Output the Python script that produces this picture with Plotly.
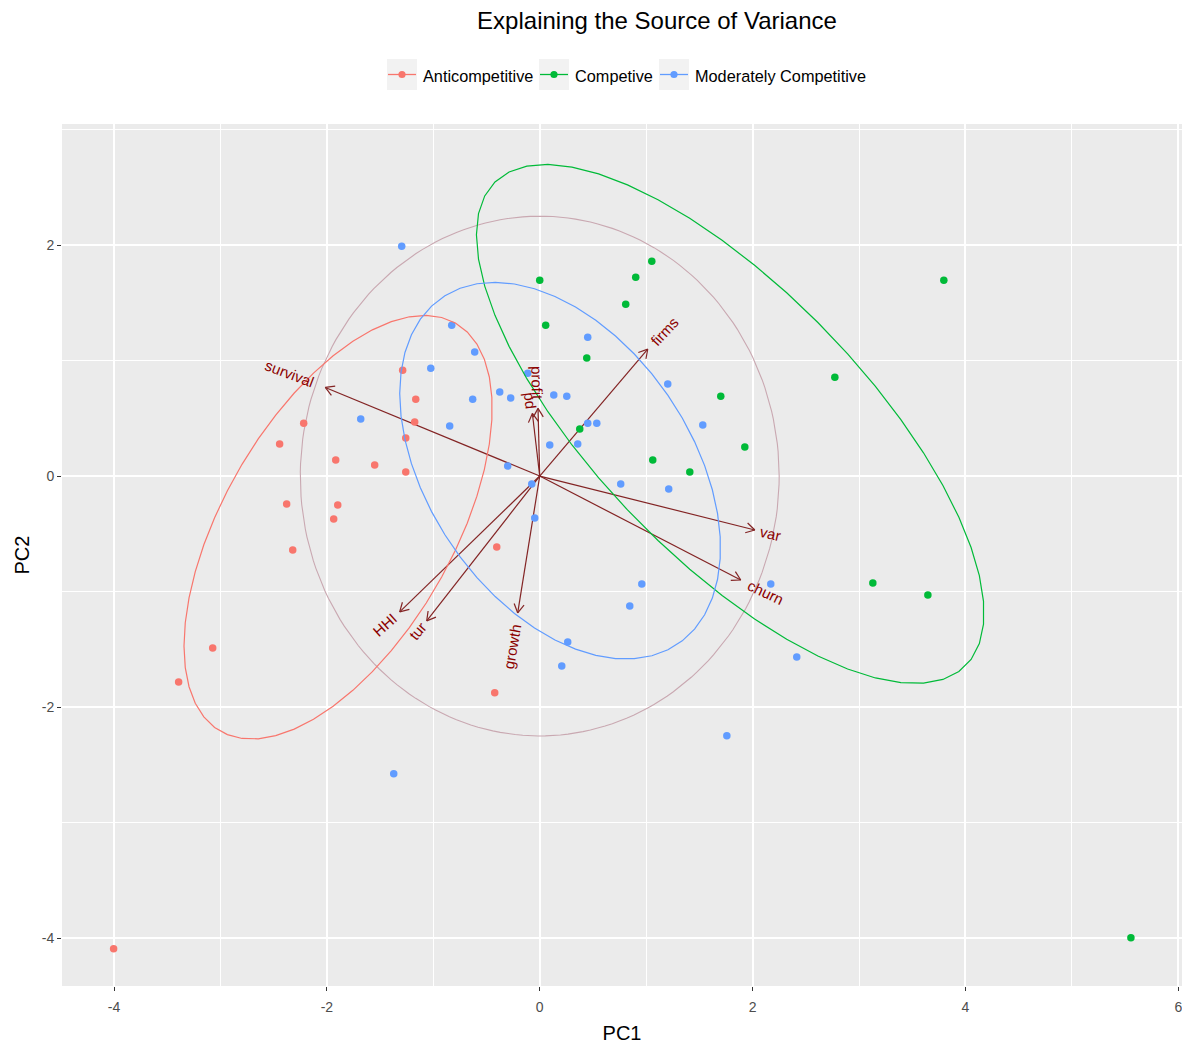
import numpy as np
import plotly.graph_objects as go

# ---------------- PCA scores, one pair of arrays per market group ----------------
group_names = ["Anticompetitive", "Competive", "Moderately Competitive"]
group_colors = ["#F8766D", "#00BA38", "#619CFF"]

anti_pc1 = [-1.288, -1.165, -1.175, -1.259, -2.218, -2.444, -1.917, -1.551, -1.259,
            -2.378, -1.898, -1.936, -2.321, -0.404, -0.423, -3.393, -3.073, -4.004]
anti_pc2 = [0.917, 0.666, 0.467, 0.329, 0.458, 0.277, 0.138, 0.095, 0.035,
            -0.242, -0.251, -0.372, -0.640, -0.614, -1.877, -1.782, -1.488, -4.092]

comp_pc1 = [0.000, 0.056, 0.902, 1.053, 0.808, 0.442, 1.701, 0.376, 1.927, 1.062,
            1.410, 2.773, 3.797, 3.130, 3.647, 5.555]
comp_pc2 = [1.696, 1.306, 1.721, 1.860, 1.488, 1.021, 0.692, 0.407, 0.251, 0.138,
            0.035, 0.856, 1.696, -0.926, -1.029, -3.997]

mod_pc1 = [-1.297, -0.827, -0.611, -1.024, -1.682, -0.846, -0.630, -0.376, -0.273,
           -0.113, 0.132, 0.254, 0.451, 0.451, 0.536, 0.094, 0.357, -0.301, -0.075,
           -0.047, 1.203, 1.532, 0.761, 1.212, 0.959, 0.846, 0.263, 0.207, 2.171,
           2.415, 1.758, -1.372]
mod_pc2 = [1.990, 1.306, 1.073, 0.934, 0.493, 0.433, 0.666, 0.727, 0.675, 0.891,
           0.701, 0.692, 1.202, 0.458, 0.458, 0.268, 0.277, 0.087, -0.069, -0.363,
           0.796, 0.441, -0.069, -0.112, -0.934, -1.125, -1.436, -1.644, -0.934,
           -1.566, -2.249, -2.578]

# ---------------- variable loadings (biplot arrows) ----------------
var_names = ["survival", "firms", "var", "churn", "HHI", "tur", "growth", "profit", "pd"]
var_pc1 = [-2.015, 1.015, 2.021, 1.889, -1.316, -1.062, -0.207, -0.016, -0.069]
var_pc2 = [0.767, 1.099, -0.467, -0.900, -1.176, -1.254, -1.185, 0.586, 0.542]

circle_radius = 2.25
ellipse_prob = 0.68

x_ticks = [-4, -2, 0, 2, 4, 6]
y_ticks = [-4, -2, 0, 2]
x_minor = [-3, -1, 1, 3, 5]
y_minor = [-3, -1, 1, 3]

# ---------------- page geometry ----------------
FIG_W, FIG_H = 1182, 1046
M_L, M_R, M_T, M_B = 62, 0, 124, 60
PW = FIG_W - M_L - M_R
PH = FIG_H - M_T - M_B
X_RANGE = [-4.489, 6.035]
Y_RANGE = [-4.415, 3.048]
SX = PW / (X_RANGE[1] - X_RANGE[0])   # px per x unit
SY = PH / (Y_RANGE[1] - Y_RANGE[0])   # px per y unit

FONT = "Arial, Liberation Sans, sans-serif"
ARROW_COL = "#832424"
LABEL_COL = "#8B0000"
CIRCLE_COL = "#C9A8B1"
PANEL_BG = "#EBEBEB"


def paper_x(px):
    return (px - M_L) / PW


def paper_y(py):
    return (M_T + PH - py) / PH


def data_ellipse(x, y, prob, n=50):
    """Normal-theory data ellipse, as drawn by ggbiplot."""
    xy = np.column_stack([x, y])
    mu = xy.mean(axis=0)
    sigma = np.cov(xy, rowvar=False)
    ed = np.sqrt(-2.0 * np.log(1.0 - prob))      # sqrt of chi-square(2) quantile
    theta = np.concatenate([np.linspace(-np.pi, np.pi, n), np.linspace(np.pi, -np.pi, n)])
    circ = np.column_stack([np.cos(theta), np.sin(theta)])
    upper = np.linalg.cholesky(sigma).T
    ell = ed * circ @ upper + mu
    return ell[:, 0], ell[:, 1]


# Arial advance widths (per 1000 em) for label placement
_AW = {c: 556 for c in "abdeghnopqu0123456789"}
_AW.update({"c": 500, "f": 278, "i": 222, "j": 222, "k": 500, "l": 222, "m": 833,
            "r": 333, "s": 500, "t": 278, "v": 500, "w": 722, "x": 500, "y": 500,
            "z": 500, "H": 722, "I": 278, " ": 278})


def text_width(s, size):
    return sum(_AW.get(ch, 600) for ch in s) * size / 1000.0


fig = go.Figure()

# correlation circle
t = np.linspace(0, 2 * np.pi, 200)
fig.add_trace(go.Scatter(
    x=circle_radius * np.cos(t), y=circle_radius * np.sin(t), mode="lines",
    line=dict(color=CIRCLE_COL, width=1.1), hoverinfo="skip", showlegend=False))

# loading arrows: shaft plus an open head drawn in screen space
HEAD_LEN = 10.0
HEAD_ANG = np.deg2rad(30)
ax_x, ax_y = [], []
for vx, vy in zip(var_pc1, var_pc2):
    d = np.array([vx * SX, -vy * SY])
    u = d / np.linalg.norm(d)
    ax_x += [0, vx, None]
    ax_y += [0, vy, None]
    for s in (1, -1):
        c, sn = np.cos(s * HEAD_ANG), np.sin(s * HEAD_ANG)
        r = np.array([c * u[0] - sn * u[1], sn * u[0] + c * u[1]])
        off = -HEAD_LEN * r
        ax_x += [vx, vx + off[0] / SX, None]
        ax_y += [vy, vy - off[1] / SY, None]
fig.add_trace(go.Scatter(x=ax_x, y=ax_y, mode="lines",
                         line=dict(color=ARROW_COL, width=1.2),
                         hoverinfo="skip", showlegend=False))

# points
groups = [(anti_pc1, anti_pc2), (comp_pc1, comp_pc2), (mod_pc1, mod_pc2)]
for (gx, gy), name, col in zip(groups, group_names, group_colors):
    fig.add_trace(go.Scatter(x=gx, y=gy, mode="markers", name=name,
                             marker=dict(color=col, size=7.5, line=dict(width=0)),
                             showlegend=False))

# group ellipses
for (gx, gy), name, col in zip(groups, group_names, group_colors):
    ex, ey = data_ellipse(gx, gy, ellipse_prob)
    fig.add_trace(go.Scatter(x=ex, y=ey, mode="lines", name=name,
                             line=dict(color=col, width=1.2),
                             hoverinfo="skip", showlegend=False))

# variable labels, placed just beyond each arrow tip
LABEL_SIZE = 15
annotations = []
for name, vx, vy in zip(var_names, var_pc1, var_pc2):
    ang = np.degrees(np.arctan(vy / vx))
    w = text_width(name, LABEL_SIZE)
    sgn = np.sign(vx)
    shift = sgn * 0.75 * w
    cx = vx + shift * np.cos(np.radians(ang)) / SX
    cy = vy + shift * np.sin(np.radians(ang)) / SY
    annotations.append(dict(x=cx, y=cy, xref="x", yref="y", text=name, showarrow=False,
                            textangle=-ang, xanchor="center", yanchor="middle",
                            font=dict(family=FONT, size=LABEL_SIZE, color=LABEL_COL)))

# legend: grey key boxes with line + point, then the group name
shapes = []
key_left = [387, 539, 659]
text_left = [421, 573, 693]
KEY_W, KEY_TOP, KEY_BOT = 30, 59, 90
key_cy = (KEY_TOP + KEY_BOT) / 2
for kl, tl, name, col in zip(key_left, text_left, group_names, group_colors):
    shapes.append(dict(type="rect", xref="paper", yref="paper", layer="below",
                       x0=paper_x(kl), x1=paper_x(kl + KEY_W),
                       y0=paper_y(KEY_BOT), y1=paper_y(KEY_TOP),
                       fillcolor="#F2F2F2", line=dict(width=0)))
    shapes.append(dict(type="line", xref="paper", yref="paper",
                       x0=paper_x(kl + 1), x1=paper_x(kl + KEY_W - 1),
                       y0=paper_y(key_cy), y1=paper_y(key_cy),
                       line=dict(color=col, width=1.3)))
    shapes.append(dict(type="circle", xref="paper", yref="paper",
                       xsizemode="pixel", ysizemode="pixel",
                       xanchor=paper_x(kl + KEY_W / 2), yanchor=paper_y(key_cy),
                       x0=-3.6, x1=3.6, y0=-3.6, y1=3.6,
                       fillcolor=col, line=dict(width=0)))
    annotations.append(dict(x=paper_x(tl), y=paper_y(key_cy + 1.5), xref="paper", yref="paper",
                            text=name, showarrow=False, xanchor="left", yanchor="middle",
                            font=dict(family=FONT, size=16.3, color="#000000")))

axis_common = dict(
    showgrid=True, gridcolor="#FFFFFF", gridwidth=1.5, zeroline=False, showline=False,
    ticks="outside", ticklen=4, tickwidth=1, tickcolor="#333333",
    tickfont=dict(family=FONT, size=14, color="#4D4D4D"), automargin=False,
    ticklabeloverflow="allow",
)

fig.update_layout(
    width=FIG_W, height=FIG_H,
    margin=dict(l=M_L, r=M_R, t=M_T, b=M_B, pad=0),
    paper_bgcolor="#FFFFFF", plot_bgcolor=PANEL_BG,
    font=dict(family=FONT),
    title=dict(text="Explaining the Source of Variance", x=657 / FIG_W, xref="container",
               xanchor="center", y=1 - 21 / FIG_H, yref="container", yanchor="middle",
               font=dict(family=FONT, size=24, color="#000000")),
    xaxis=dict(range=X_RANGE, tickmode="array", tickvals=x_ticks,
               ticktext=[str(v) for v in x_ticks], ticklabelstandoff=4,
               minor=dict(tickmode="array", tickvals=x_minor, showgrid=True,
                          gridcolor="#FFFFFF", gridwidth=0.8, ticks=""),
               title=dict(text="PC1", standoff=12, font=dict(family=FONT, size=20, color="#000000")),
               **axis_common),
    yaxis=dict(range=Y_RANGE, tickmode="array", tickvals=y_ticks,
               ticktext=[str(v) for v in y_ticks],
               minor=dict(tickmode="array", tickvals=y_minor, showgrid=True,
                          gridcolor="#FFFFFF", gridwidth=0.8, ticks=""),
               title=dict(text="PC2", standoff=6, font=dict(family=FONT, size=20, color="#000000")),
               **axis_common),
    shapes=shapes,
    annotations=annotations,
    showlegend=False,
)

fig.write_html("out.html")
